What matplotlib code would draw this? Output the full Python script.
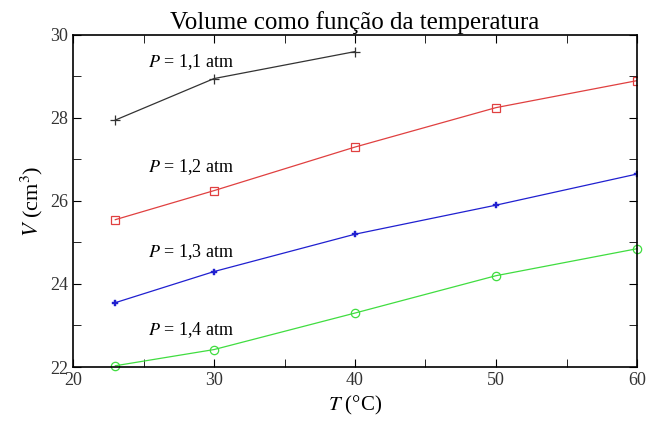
import matplotlib
matplotlib.use('Agg')
import matplotlib.pyplot as plt
from matplotlib.ticker import MultipleLocator

plt.rcParams['font.family'] = 'Liberation Serif'
plt.rcParams['mathtext.fontset'] = 'stix'

temps = [23, 30, 40, 50, 60]
v_11 = [27.95, 28.95, 29.6]
v_12 = [25.55, 26.25, 27.3, 28.25, 28.9]
v_13 = [23.55, 24.3, 25.2, 25.9, 26.65]
v_14 = [22.03, 22.42, 23.3, 24.2, 24.85]
labels = ['$P$ = 1,1 atm', '$P$ = 1,2 atm', '$P$ = 1,3 atm', '$P$ = 1,4 atm']
label_y = [29.35, 26.82, 24.77, 22.9]

fig = plt.figure(figsize=(6.47, 4.23), dpi=100)
ax = fig.add_axes([73/647, 56/423, 564/647, 332/423])

ax.plot(temps[:3], v_11, color='#333333', lw=0.9, marker='+', ms=7, mew=0.9)
ax.plot(temps, v_12, color='#e04040', lw=0.9, marker='s', ms=6, mfc='none', mew=0.9)
ax.plot(temps, v_13, color='#2020d0', lw=0.9, marker='P', ms=5, mew=0.3)
ax.plot(temps, v_14, color='#40dd40', lw=0.9, marker='o', ms=6, mfc='none', mew=0.9, clip_on=False)

for lab, y in zip(labels, label_y):
    ax.text(25.3, y, lab, fontsize=13, va='center', ha='left')

ax.set_xlim(20, 60)
ax.set_ylim(22, 30)
ax.xaxis.set_major_locator(MultipleLocator(10))
ax.xaxis.set_minor_locator(MultipleLocator(5))
ax.yaxis.set_major_locator(MultipleLocator(2))
ax.yaxis.set_minor_locator(MultipleLocator(1))
ax.tick_params(which='both', direction='in', top=True, right=True, labelsize=13,
               labelcolor='#333333')
ax.tick_params(which='major', length=6)
ax.tick_params(which='minor', length=6)
for s in ax.spines.values():
    s.set_linewidth(1.2)

ax.set_xlabel('$T$ (°C)', fontsize=15)
ax.set_ylabel('$V$ (cm$^3$)', fontsize=16)
ax.set_title('Volume como função da temperatura', fontsize=18, pad=4)

fig.savefig('out.png', dpi=100)
